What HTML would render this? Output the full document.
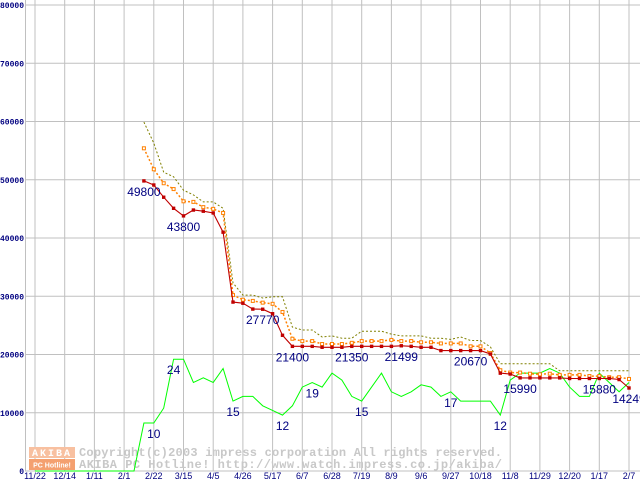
<!DOCTYPE html>
<html><head><meta charset="utf-8"><style>
html,body{margin:0;padding:0;background:#fff;width:640px;height:480px;overflow:hidden}
svg{display:block}
</style></head><body>
<svg id="chart" width="640" height="480" xmlns="http://www.w3.org/2000/svg">
<g id="grid"></g>
<g id="yaxis"></g>
<g id="xaxis"></g>
<g id="watermark">
  <rect x="29" y="447" width="46" height="11" fill="#f8c0a0"/>
  <rect x="29" y="459" width="46" height="11" fill="#f4a070"/>
  <text x="52" y="456" font-family="Liberation Mono, monospace" font-weight="bold" font-size="10" fill="#fff" text-anchor="middle" letter-spacing="2">AKIBA</text>
  <text x="52" y="467.5" font-family="Liberation Sans, sans-serif" font-weight="bold" font-size="7" fill="#fff" text-anchor="middle">PC Hotline!</text>
  <text x="79" y="456" font-family="Liberation Mono, monospace" font-weight="bold" font-size="12" fill="#c8c8c8" textLength="423">Copyright(c)2003 impress corporation All rights reserved.</text>
  <text x="79" y="468" font-family="Liberation Mono, monospace" font-weight="bold" font-size="12" fill="#c8c8c8" textLength="423">AKIBA PC Hotline!  http://www.watch.impress.co.jp/akiba/</text>
</g>
<g id="series"></g>
<g id="labels"></g>
</svg>
<script>
const xTickLabels = ['11/22','12/14','1/11','2/1','2/22','3/15','4/5','4/26','5/17','6/7','6/28','7/19','8/9','9/6','9/27','10/18','11/8','11/29','12/20','1/17','2/7'];
const yTicks = [0,10000,20000,30000,40000,50000,60000,70000,80000];
const priceStart = 11;
const minPrice = [49800,49100,47000,45100,43800,44800,44600,44300,41000,29000,28800,27800,27770,27000,23300,21400,
21400,21400,21240,21240,21240,21400,21400,21400,21400,21400,21499,21400,21240,21240,20670,20670,20670,20670,20670,20080,
16800,16650,15990,15990,15990,15990,15990,15880,15880,15880,15880,15900,15700,14249];
const avgPrice = [55400,51800,49400,48400,46300,46200,45300,45000,44300,30200,29400,29200,28900,28700,27300,22700,
22300,22300,21800,21800,21800,22000,22300,22300,22300,22500,22300,22300,22100,22100,21900,21900,21900,21400,21400,20250,
17300,16900,16900,16700,16600,16700,16500,16500,16500,16300,16300,16100,16100,15800];
const maxPrice = [59900,56300,51300,50500,48200,47400,46200,46200,45100,32300,30200,30200,29700,29900,29900,24700,
24200,24200,23000,23200,22800,22800,24000,24000,24000,23500,23200,23200,23200,22800,22800,22600,23000,22400,22400,21300,
18400,18400,18400,18400,18400,18400,17200,17200,17200,17200,17200,17200,17200,17200];
const shopCount = [0,0,0,0,0,0,0,0,0,0,0,10.3,10.3,13.5,24,24,19,20,19,22,15,16,16,14,13,12,14,18,19,18,21,19.5,16,15,18,21,17,16,17,18.5,18,16,17,15,15,15,15,12,19.5,21,21,21,22,21,18,16,16,21,19,17,19];
const countScale = 800;
const priceLabelWeeks = [11,15,23,26,32,37,44,49,57,60];
const priceLabelTexts = ['49800','43800','27770','21400','21350','21499','20670','15990','15880','14249'];
const countLabelWeeks = [12,14,20,25,28,33,42,47];
const countLabelTexts = ['10','24','15','12','19','15','17','12'];

const NS='http://www.w3.org/2000/svg';
const X0=35, WK=9.9, Y0=471, PY=0.005825;
function xs(w){return X0+w*WK;}
function ys(v){return Y0-v*PY;}
function mk(tag,attrs,parent){const e=document.createElementNS(NS,tag);for(const k in attrs)e.setAttribute(k,attrs[k]);parent.appendChild(e);return e;}
const grid=document.getElementById('grid'),yax=document.getElementById('yaxis'),xax=document.getElementById('xaxis'),ser=document.getElementById('series'),lab=document.getElementById('labels');

yTicks.forEach(v=>{
  const l=mk('line',{x1:25,x2:640,y1:ys(v),y2:ys(v),stroke:'#c0c0c0','stroke-width':1},grid);
  
  
  const s=String(v);
  const t=mk('text',{x:24,y:ys(v)+3,'text-anchor':'end','font-family':'Liberation Mono, monospace','font-weight':'bold','font-size':8,fill:'#000080',textLength:s.length*4.8,lengthAdjust:'spacingAndGlyphs'},yax);
  t.textContent=s;
  
  
});
const ax=mk('line',{x1:25.5,x2:25.5,y1:0,y2:471,stroke:'#c0c0c0','stroke-width':1},grid);


xTickLabels.forEach((s,i)=>{
  const x=xs(i*3);
  const l=mk('line',{x1:x,x2:x,y1:0,y2:471,stroke:'#c0c0c0','stroke-width':1},grid);
  
  
  const t=mk('text',{x:x,y:479,'text-anchor':'middle','font-family':'Liberation Sans, sans-serif','font-size':9,fill:'#000080'},xax);
  t.textContent=s;
  
  
});

function pts(arr,start,scale){return arr.map((v,i)=>xs(start+i).toFixed(1)+','+ys(v*scale).toFixed(1)).join(' ');}
const gl=mk('polyline',{points:pts(shopCount,0,countScale),fill:'none',stroke:'#00ff00','stroke-width':1},ser);


const ol=mk('polyline',{points:pts(maxPrice,priceStart,1),fill:'none',stroke:'#808000','stroke-width':1,'stroke-dasharray':'2,2'},ser);


const al=mk('polyline',{points:pts(avgPrice,priceStart,1),fill:'none',stroke:'#ff8000','stroke-width':1.5,'stroke-dasharray':'2,2'},ser);


avgPrice.forEach((v,i)=>{
  const r=mk('rect',{x:xs(priceStart+i)-1.5,y:ys(v)-1.5,width:3,height:3,fill:'#fff',stroke:'#ff8000','stroke-width':1},ser);
  
  
});
const rl=mk('polyline',{points:pts(minPrice,priceStart,1),fill:'none',stroke:'#c00000','stroke-width':1.1},ser);


minPrice.forEach((v,i)=>{
  const r=mk('rect',{x:xs(priceStart+i)-1.7,y:ys(v)-1.7,width:3.4,height:3.4,fill:'#c00000'},ser);
  
  
});
priceLabelWeeks.forEach((w,i)=>{
  const v=minPrice[w-priceStart];
  const t=mk('text',{x:xs(w),y:ys(v)+15,'text-anchor':'middle','font-family':'Liberation Sans, sans-serif','font-size':12,fill:'#000080'},lab);
  t.textContent=priceLabelTexts[i];
  
  
});
countLabelWeeks.forEach((w,i)=>{
  const v=shopCount[w]*countScale;
  const t=mk('text',{x:xs(w),y:ys(v)+15,'text-anchor':'middle','font-family':'Liberation Sans, sans-serif','font-size':12,fill:'#000080'},lab);
  t.textContent=countLabelTexts[i];
  
  
});
</script>
</body></html>
